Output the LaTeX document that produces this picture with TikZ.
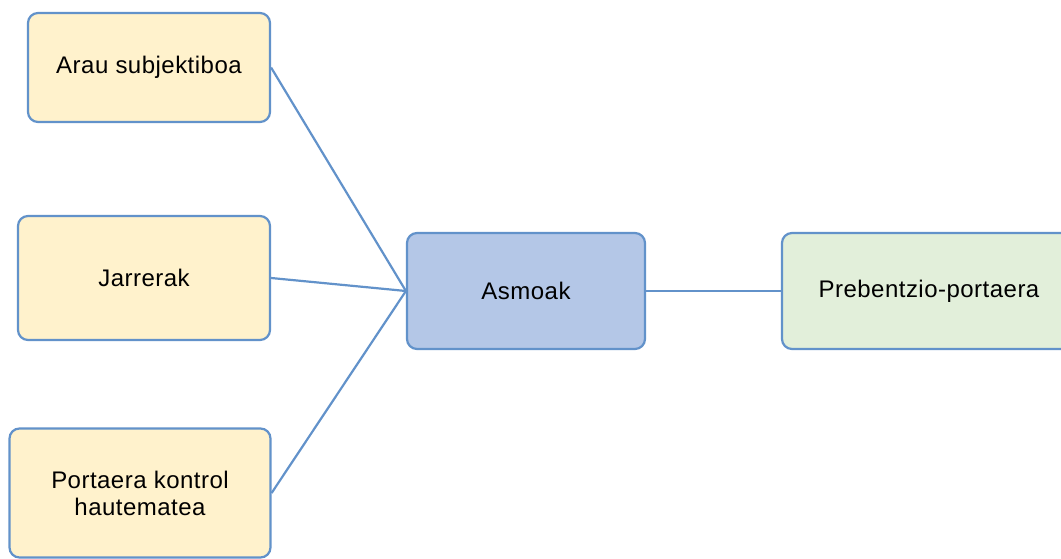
\documentclass[tikz,border=0pt]{standalone}
\usepackage{fontspec}
\setmainfont{Liberation Sans}[LetterSpace=2]
\definecolor{edgeblue}{RGB}{98,146,202}
\definecolor{factorfill}{RGB}{255,242,204}
\definecolor{intentfill}{RGB}{180,199,231}
\definecolor{behavefill}{RGB}{226,239,218}
\begin{document}
\begin{tikzpicture}[x=1pt,y=-1pt,
  box/.style={draw=edgeblue, line width=2.2pt, rounded corners=10pt, align=center,
    inner sep=0pt, font=\fontsize{24}{27}\selectfont},
  link/.style={draw=edgeblue, line width=2.2pt}]
\clip (0,0) rectangle (1061,559);
\node[box, fill=factorfill, minimum width=242, minimum height=109] (arau) at (149,67.5) {Arau subjektiboa};
\node[box, fill=factorfill, minimum width=252, minimum height=124] (jarrerak) at (144,278) {Jarrerak};
\node[box, fill=factorfill, minimum width=261, minimum height=129] (kontrol) at (140,493) {Portaera kontrol\\hautematea};
\node[box, fill=intentfill, minimum width=238, minimum height=116] (asmoak) at (526,291) {Asmoak};
\node[box, fill=behavefill, minimum width=294, minimum height=116] (prebentzio) at (929,291) {Prebentzio-portaera};
\draw[link] (arau.east) -- (asmoak.west);
\draw[link] (jarrerak.east) -- (asmoak.west);
\draw[link] (kontrol.east) -- (asmoak.west);
\draw[link] (asmoak.east) -- (prebentzio.west);
\end{tikzpicture}
\end{document}
